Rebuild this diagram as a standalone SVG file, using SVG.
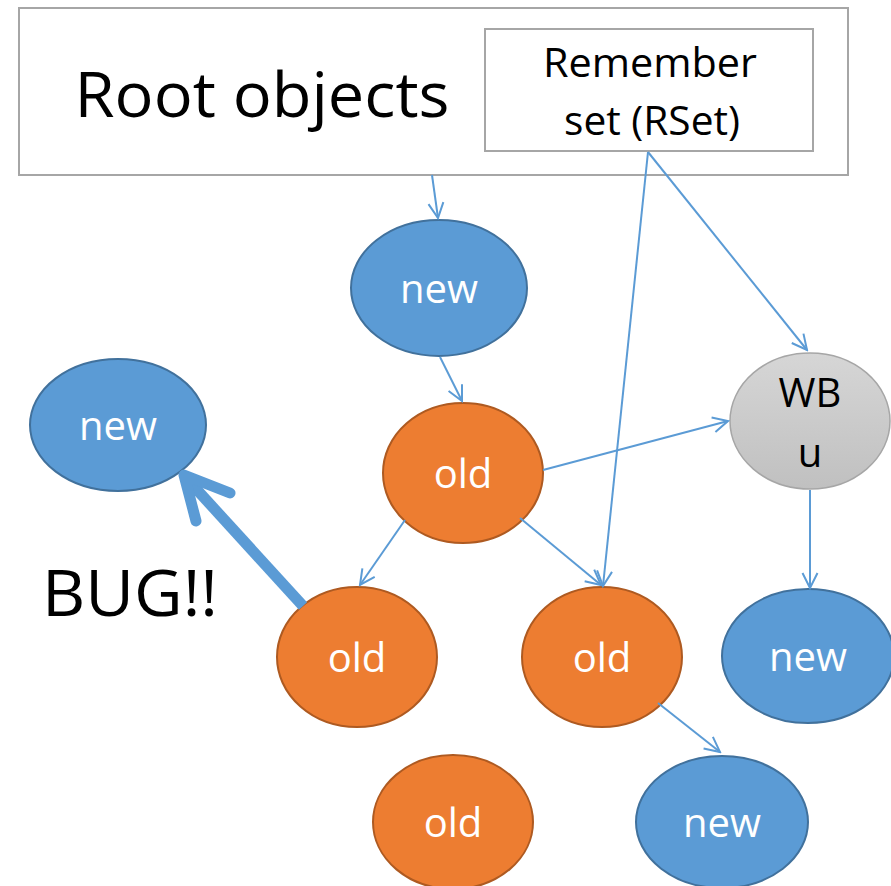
<svg xmlns="http://www.w3.org/2000/svg" width="891" height="886" viewBox="0 0 891 886">
<defs>
<style>
.box{fill:#fff;stroke:#a6a6a6;stroke-width:2}
.blue{fill:#5B9BD5;stroke:#41719C;stroke-width:2}
.orange{fill:#ED7D31;stroke:#AE5A21;stroke-width:2}
.gray{fill:url(#g);stroke:#a6a6a6;stroke-width:1.5}
.lbl{font-family:"Open Sans","DejaVu Sans",sans-serif;font-size:40px;fill:#fff;text-anchor:middle}
.blk{font-family:"Open Sans","DejaVu Sans",sans-serif;fill:#000;text-anchor:middle}
.edge{fill:none;stroke:#5B9BD5;stroke-width:2;marker-end:url(#arr)}
</style>
<linearGradient id="g" x1="0" y1="0" x2="0" y2="1">
<stop offset="0" stop-color="#d6d6d6"/>
<stop offset="1" stop-color="#c0c0c0"/>
</linearGradient>
<marker id="arr" markerUnits="userSpaceOnUse" viewBox="-18 -10 20 20" markerWidth="20" markerHeight="20" refX="0" refY="0" orient="auto">
<path d="M-15,-7.5 L0,0 L-15,7.5" fill="none" stroke="#5B9BD5" stroke-width="2"/>
</marker>
</defs>
<rect width="891" height="886" fill="#fff"/>
<g id="root">
<rect class="box" x="19" y="8" width="829" height="167"/>
<text class="blk" x="262" y="117" font-size="62" textLength="375" lengthAdjust="spacingAndGlyphs">Root objects</text>
</g>
<g id="rset">
<rect class="box" x="485" y="29" width="328" height="122"/>
<text class="blk" x="650" y="77" font-size="40" textLength="214" lengthAdjust="spacingAndGlyphs">Remember</text>
<text class="blk" x="652" y="135" font-size="40" textLength="176" lengthAdjust="spacingAndGlyphs">set (RSet)</text>
</g>
<g id="n-new-top"><ellipse class="blue" cx="439" cy="288" rx="88" ry="68"/><text class="lbl" x="439" y="303">new</text></g>
<g id="n-new-left"><ellipse class="blue" cx="118" cy="425" rx="88" ry="66"/><text class="lbl" x="118" y="440">new</text></g>
<g id="n-old-center"><ellipse class="orange" cx="463" cy="473" rx="80" ry="70"/><text class="lbl" x="463" y="488">old</text></g>
<g id="n-wbu"><ellipse class="gray" cx="810" cy="421" rx="80" ry="68"/><text class="blk" x="810" y="407" font-size="40">WB</text><text class="blk" x="810" y="467" font-size="40">u</text></g>
<g id="n-old-left"><ellipse class="orange" cx="357" cy="657" rx="80" ry="70"/><text class="lbl" x="357" y="672">old</text></g>
<g id="n-old-mid"><ellipse class="orange" cx="602" cy="657" rx="80" ry="70"/><text class="lbl" x="602" y="672">old</text></g>
<g id="n-new-right"><ellipse class="blue" cx="808" cy="656" rx="86" ry="67"/><text class="lbl" x="808" y="671">new</text></g>
<g id="n-old-bottom"><ellipse class="orange" cx="453" cy="822" rx="80" ry="67"/><text class="lbl" x="453" y="837">old</text></g>
<g id="n-new-bottom"><ellipse class="blue" cx="722" cy="822" rx="86" ry="66"/><text class="lbl" x="722" y="837">new</text></g>
<g id="bug-label"><text class="blk" x="130" y="616" font-size="64" textLength="176" lengthAdjust="spacingAndGlyphs">BUG!!</text></g>
<g id="connectors">
<path class="edge" d="M432,175 L438,218"/>
<path class="edge" d="M440,357 L462,401"/>
<path class="edge" d="M648,152 L603,586"/>
<path class="edge" d="M648,152 L807,350"/>
<path class="edge" d="M543,470 L728,421"/>
<path class="edge" d="M405,520 L360,585"/>
<path class="edge" d="M520,518 L601,585"/>
<path class="edge" d="M810,490 L810,588"/>
<path class="edge" d="M658,703 L720,752"/>
<g id="bug-arrow" fill="none" stroke="#5B9BD5" stroke-width="11" stroke-linecap="round" stroke-linejoin="round">
<path d="M303,606 L188,480" stroke-linecap="butt"/>
<path d="M230,493 L184,475 L196,521"/>
</g>
</g>
</svg>
